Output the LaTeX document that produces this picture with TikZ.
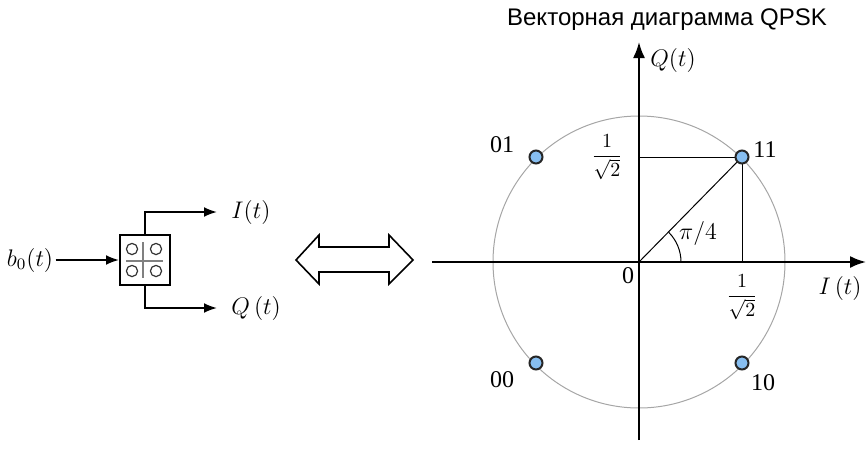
\documentclass[tikz,border=0pt]{standalone}
\usepackage{amsmath,amssymb}
\usepackage{fontspec}
\setmainfont{Liberation Serif}
\newfontfamily\titlefont{Liberation Sans}
\usepackage{tikz}
\usetikzlibrary{arrows.meta,positioning,calc}

\definecolor{pointblue}{RGB}{135,190,240}

\begin{document}
\begin{tikzpicture}[
    x=0.5pt, y=-0.5pt,
    arrow/.style={-{Latex[length=6.5pt,width=5pt]}, line width=1pt},
    axis/.style={-{Latex[length=8pt,width=6pt]}, line width=1pt},
    thin line/.style={line width=0.5pt},
    point/.style={circle, draw=black!85, line width=1pt, fill=pointblue, minimum size=6.5pt, inner sep=0pt},
    lbl/.style={font=\large, inner sep=1pt},
    mathlbl/.style={font=\large, inner sep=1pt}
]
\useasboundingbox (0,0) rectangle (867,450);

% splitter block
\node[draw, line width=1pt, minimum size=25pt, inner sep=0pt] (blk) at (145,260) {};
\node[mathlbl] (b0) at (30,260) {$b_0(t)$};
\coordinate (iout) at (217,212);
\coordinate (qout) at (217,308);
\node[mathlbl, right=6pt of iout] (ilbl) {$I(t)$};
\node[mathlbl, right=6pt of qout] (qlbl) {$Q\,(t)$};
\draw[arrow] (b0.east) -- (blk.west);
\draw[arrow] (blk.north) |- (iout);
\draw[arrow] (blk.south) |- (qout);
\draw[gray, line width=0.8pt] ($(blk.center)+(-19,1)$) -- ($(blk.center)+(18,1)$);
\draw[gray, line width=0.8pt] ($(blk.center)+(-2,-18)$) -- ($(blk.center)+(-2,18)$);
\foreach \dx/\dy in {-13/-11, 11/-11, -13/11, 11/11}
  \draw[black!80, line width=0.6pt] ($(blk.center)+(\dx,\dy)$) circle (2.8pt);

% double arrow
\draw[line width=0.8pt, line join=miter] (296,260) -- (319,235) -- (319,247) -- (389,247) -- (389,235)
  -- (413,260) -- (389,284) -- (389,272) -- (319,272) -- (319,284) -- cycle;

% vector diagram
\coordinate (O) at (639,262);
\coordinate (xmin) at (432,262);
\coordinate (xmax) at (866,262);
\coordinate (ymin) at (639,440);
\coordinate (ymax) at (639,42);
\draw[gray!70, thin line] (O) circle (73pt);
\draw[axis] (xmin) -- (xmax);
\draw[axis] (ymin) -- (ymax);

\coordinate (q11) at (639,157);
\coordinate (i11) at (742,262);
\draw[thin line] (O) -- (742,157);
\draw[thin line] (q11) -- (742,157);
\draw[thin line] (i11) -- (742,157);
\draw[thin line] ($(O)+(42,0)$) arc[start angle=0, end angle=45, radius=21pt];
\node[point] (p11) at (742,157) {};
\node[point] (p01) at (536,157) {};
\node[point] (p00) at (536,363) {};
\node[point] (p10) at (742,363) {};

\node[lbl] (l11) at (765,150) {11};
\node[lbl] (l01) at (502,145) {01};
\node[lbl] (l00) at (502,380) {00};
\node[lbl] (l10) at (763,383) {10};
\node[inner sep=1pt] (fq) at (607,157) {$\displaystyle\frac{1}{\sqrt{2}}$};
\node[inner sep=1pt] (fi) at (742,297) {$\displaystyle\frac{1}{\sqrt{2}}$};
\node[lbl] (zero) at (628,276) {0};
\node[mathlbl] (ang) at (698,233) {$\pi/4$};
\node[mathlbl] (qax) at (673,60) {$Q(t)$};
\node[mathlbl] (iax) at (840,288) {$I\,(t)$};
\node[font=\titlefont\large] (title) at (667,20) {Векторная диаграмма QPSK};
\end{tikzpicture}
\end{document}
